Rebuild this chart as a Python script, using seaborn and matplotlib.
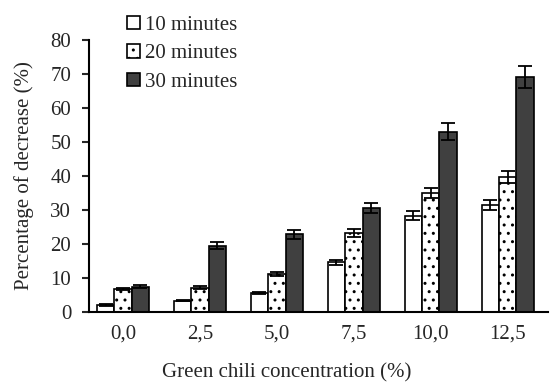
import matplotlib
matplotlib.use("Agg")
import matplotlib.pyplot as plt
import seaborn as sns
import pandas as pd
import numpy as np

categories = ["0,0", "2,5", "5,0", "7,5", "10,0", "12,5"]
series = ["10 minutes", "20 minutes", "30 minutes"]
v10 = [2.1, 3.3, 5.5, 14.6, 28.3, 31.5]
v20 = [6.8, 7.2, 11.2, 23.2, 35.0, 39.8]
v30 = [7.4, 19.5, 22.8, 30.6, 53.0, 69.2]
e10 = [0.2, 0.2, 0.3, 0.7, 1.3, 1.5]
e20 = [0.3, 0.3, 0.6, 1.2, 1.5, 1.8]
e30 = [0.4, 1.0, 1.2, 1.5, 2.5, 3.2]

sns.set_style("white")
plt.rcParams['font.family'] = ['Liberation Serif', 'DejaVu Serif']
plt.rcParams['hatch.linewidth'] = 1.0

df = pd.DataFrame({
    "conc": categories * 3,
    "time": [s for s in series for _ in categories],
    "val": v10 + v20 + v30,
})
errs = {series[0]: e10, series[1]: e20, series[2]: e30}
vals = {series[0]: v10, series[1]: v20, series[2]: v30}

fig = plt.figure(figsize=(5.54, 3.83), dpi=100)
ax = fig.add_axes([0.161, 0.1854, 0.829, 0.710])
palette = {series[0]: "white", series[1]: "white", series[2]: "#404040"}
sns.barplot(data=df, x="conc", y="val", hue="time", palette=palette,
            order=categories, hue_order=series, errorbar=None,
            width=0.68, edgecolor="black", linewidth=1.2, ax=ax, saturation=1)

for container, s in zip(ax.containers, series):
    xs = []
    for p in container.patches:
        xs.append(p.get_x() + p.get_width() / 2)
        if s == series[1]:
            p.set_hatch("..")
    ax.errorbar(xs, vals[s], yerr=errs[s], fmt="none", ecolor="black",
                elinewidth=1.3, capsize=5, capthick=1.3, zorder=5)

ax.set_ylim(0, 80)
ax.set_yticks(range(0, 81, 10))
ax.set_xlim(-0.44, 5.53)
for sp in ["top", "right"]:
    ax.spines[sp].set_visible(False)
for sp in ["left", "bottom"]:
    ax.spines[sp].set_linewidth(1.5)
    ax.spines[sp].set_color("black")
fs = 15
ax.tick_params(axis="y", direction="out", length=5, width=1.5, labelsize=fs, left=True, pad=8)
ax.tick_params(axis="x", length=0, labelsize=fs, pad=9)
ax.set_xlabel("Green chili concentration (%)", fontsize=fs)
ax.xaxis.set_label_coords(0.43, -0.19)
ax.set_ylabel("Percentage of decrease (%)", fontsize=fs, labelpad=12)

leg = ax.legend(loc="upper left", bbox_to_anchor=(0.215, 0.98), bbox_transform=fig.transFigure,
                frameon=False, fontsize=fs, handlelength=0.6, handleheight=0.6,
                handletextpad=0.25, labelspacing=0.45, borderaxespad=0)
for h, s in zip(leg.legend_handles, series):
    h.set_edgecolor("black")
    h.set_linewidth(1.2)
    if s == series[1]:
        h.set_hatch("..")

fig.savefig("out.png", dpi=100)
